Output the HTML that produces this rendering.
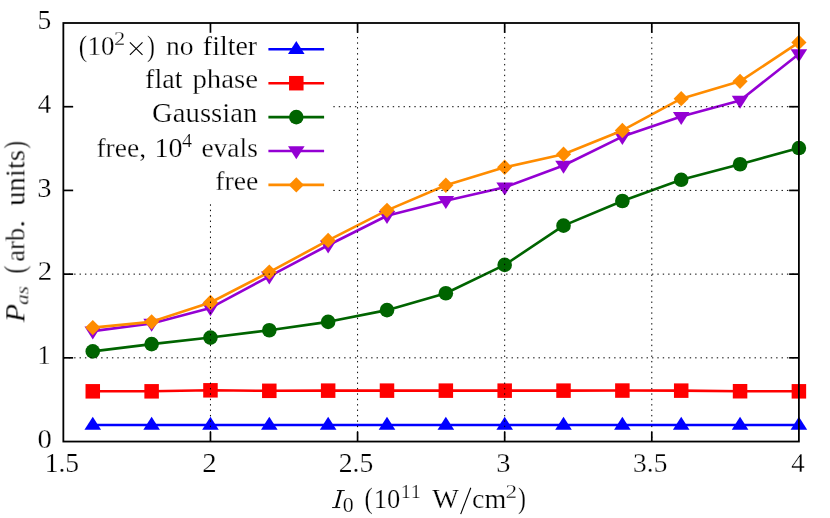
<!DOCTYPE html>
<html><head><meta charset="utf-8"><title>plot</title>
<style>
html,body{margin:0;padding:0;background:#fff;}
body{width:830px;height:518px;overflow:hidden;}
svg{display:block;}
text{font-family:"Liberation Serif",serif;fill:#000;}
#txt text{stroke:#fff;stroke-width:0.25px;paint-order:fill stroke;}
#txt{opacity:0.999;font-kerning:none;font-variant-ligatures:none;}
</style></head><body>
<svg width="830" height="518" viewBox="0 0 830 518">
<rect x="0" y="0" width="830" height="518" fill="#ffffff"/>

<polyline points="92.77,425.06 151.62,425.06 210.46,425.06 269.30,425.06 328.15,425.06 386.99,425.06 445.84,425.06 504.68,425.06 563.52,425.06 622.37,425.06 681.21,425.06 740.06,425.06 798.90,425.06" fill="none" stroke="#0000ff" stroke-width="2.6" stroke-linejoin="round"/>
<polygon points="92.77,416.76 84.47,429.76 101.07,429.76" fill="#0000ff"/>
<polygon points="151.62,416.76 143.32,429.76 159.92,429.76" fill="#0000ff"/>
<polygon points="210.46,416.76 202.16,429.76 218.76,429.76" fill="#0000ff"/>
<polygon points="269.30,416.76 261.00,429.76 277.60,429.76" fill="#0000ff"/>
<polygon points="328.15,416.76 319.85,429.76 336.45,429.76" fill="#0000ff"/>
<polygon points="386.99,416.76 378.69,429.76 395.29,429.76" fill="#0000ff"/>
<polygon points="445.84,416.76 437.54,429.76 454.14,429.76" fill="#0000ff"/>
<polygon points="504.68,416.76 496.38,429.76 512.98,429.76" fill="#0000ff"/>
<polygon points="563.52,416.76 555.22,429.76 571.82,429.76" fill="#0000ff"/>
<polygon points="622.37,416.76 614.07,429.76 630.67,429.76" fill="#0000ff"/>
<polygon points="681.21,416.76 672.91,429.76 689.51,429.76" fill="#0000ff"/>
<polygon points="740.06,416.76 731.76,429.76 748.36,429.76" fill="#0000ff"/>
<polygon points="798.90,416.76 790.60,429.76 807.20,429.76" fill="#0000ff"/>
<polyline points="92.77,391.32 151.62,391.32 210.46,390.32 269.30,390.82 328.15,390.65 386.99,390.65 445.84,390.65 504.68,390.65 563.52,390.65 622.37,390.57 681.21,390.65 740.06,391.24 798.90,391.32" fill="none" stroke="#ff0000" stroke-width="2.6" stroke-linejoin="round"/>
<rect x="85.52" y="384.07" width="14.5" height="14.5" fill="#ff0000"/>
<rect x="144.37" y="384.07" width="14.5" height="14.5" fill="#ff0000"/>
<rect x="203.21" y="383.07" width="14.5" height="14.5" fill="#ff0000"/>
<rect x="262.05" y="383.57" width="14.5" height="14.5" fill="#ff0000"/>
<rect x="320.90" y="383.40" width="14.5" height="14.5" fill="#ff0000"/>
<rect x="379.74" y="383.40" width="14.5" height="14.5" fill="#ff0000"/>
<rect x="438.59" y="383.40" width="14.5" height="14.5" fill="#ff0000"/>
<rect x="497.43" y="383.40" width="14.5" height="14.5" fill="#ff0000"/>
<rect x="556.27" y="383.40" width="14.5" height="14.5" fill="#ff0000"/>
<rect x="615.12" y="383.32" width="14.5" height="14.5" fill="#ff0000"/>
<rect x="673.96" y="383.40" width="14.5" height="14.5" fill="#ff0000"/>
<rect x="732.81" y="383.99" width="14.5" height="14.5" fill="#ff0000"/>
<rect x="791.65" y="384.07" width="14.5" height="14.5" fill="#ff0000"/>
<polyline points="92.77,351.39 151.62,344.11 210.46,337.58 269.30,330.22 328.15,321.84 386.99,310.13 445.84,293.22 504.68,264.92 563.52,225.66 622.37,200.97 681.21,179.79 740.06,164.22 798.90,148.06" fill="none" stroke="#006400" stroke-width="2.6" stroke-linejoin="round"/>
<circle cx="92.77" cy="351.39" r="7.3" fill="#006400"/>
<circle cx="151.62" cy="344.11" r="7.3" fill="#006400"/>
<circle cx="210.46" cy="337.58" r="7.3" fill="#006400"/>
<circle cx="269.30" cy="330.22" r="7.3" fill="#006400"/>
<circle cx="328.15" cy="321.84" r="7.3" fill="#006400"/>
<circle cx="386.99" cy="310.13" r="7.3" fill="#006400"/>
<circle cx="445.84" cy="293.22" r="7.3" fill="#006400"/>
<circle cx="504.68" cy="264.92" r="7.3" fill="#006400"/>
<circle cx="563.52" cy="225.66" r="7.3" fill="#006400"/>
<circle cx="622.37" cy="200.97" r="7.3" fill="#006400"/>
<circle cx="681.21" cy="179.79" r="7.3" fill="#006400"/>
<circle cx="740.06" cy="164.22" r="7.3" fill="#006400"/>
<circle cx="798.90" cy="148.06" r="7.3" fill="#006400"/>
<polyline points="92.77,331.14 151.62,323.52 210.46,307.95 269.30,276.31 328.15,245.25 386.99,215.78 445.84,200.72 504.68,187.32 563.52,165.47 622.37,136.59 681.21,116.59 740.06,100.43 798.90,53.97" fill="none" stroke="#9400d3" stroke-width="2.6" stroke-linejoin="round"/>
<polygon points="92.77,339.44 84.47,326.44 101.07,326.44" fill="#9400d3"/>
<polygon points="151.62,331.82 143.32,318.82 159.92,318.82" fill="#9400d3"/>
<polygon points="210.46,316.25 202.16,303.25 218.76,303.25" fill="#9400d3"/>
<polygon points="269.30,284.61 261.00,271.61 277.60,271.61" fill="#9400d3"/>
<polygon points="328.15,253.55 319.85,240.55 336.45,240.55" fill="#9400d3"/>
<polygon points="386.99,224.08 378.69,211.08 395.29,211.08" fill="#9400d3"/>
<polygon points="445.84,209.02 437.54,196.02 454.14,196.02" fill="#9400d3"/>
<polygon points="504.68,195.62 496.38,182.62 512.98,182.62" fill="#9400d3"/>
<polygon points="563.52,173.77 555.22,160.77 571.82,160.77" fill="#9400d3"/>
<polygon points="622.37,144.89 614.07,131.89 630.67,131.89" fill="#9400d3"/>
<polygon points="681.21,124.89 672.91,111.89 689.51,111.89" fill="#9400d3"/>
<polygon points="740.06,108.73 731.76,95.73 748.36,95.73" fill="#9400d3"/>
<polygon points="798.90,62.27 790.60,49.27 807.20,49.27" fill="#9400d3"/>
<polyline points="92.77,327.62 151.62,321.84 210.46,302.51 269.30,272.12 328.15,240.39 386.99,210.34 445.84,185.31 504.68,167.32 563.52,154.17 622.37,130.48 681.21,98.67 740.06,81.35 798.90,42.42" fill="none" stroke="#ff8c00" stroke-width="2.6" stroke-linejoin="round"/>
<polygon points="92.77,319.92 100.37,327.62 92.77,335.32 85.17,327.62" fill="#ff8c00"/>
<polygon points="151.62,314.14 159.22,321.84 151.62,329.54 144.02,321.84" fill="#ff8c00"/>
<polygon points="210.46,294.81 218.06,302.51 210.46,310.21 202.86,302.51" fill="#ff8c00"/>
<polygon points="269.30,264.42 276.90,272.12 269.30,279.82 261.70,272.12" fill="#ff8c00"/>
<polygon points="328.15,232.69 335.75,240.39 328.15,248.09 320.55,240.39" fill="#ff8c00"/>
<polygon points="386.99,202.64 394.59,210.34 386.99,218.04 379.39,210.34" fill="#ff8c00"/>
<polygon points="445.84,177.61 453.44,185.31 445.84,193.01 438.24,185.31" fill="#ff8c00"/>
<polygon points="504.68,159.62 512.28,167.32 504.68,175.02 497.08,167.32" fill="#ff8c00"/>
<polygon points="563.52,146.47 571.12,154.17 563.52,161.87 555.92,154.17" fill="#ff8c00"/>
<polygon points="622.37,122.78 629.97,130.48 622.37,138.18 614.77,130.48" fill="#ff8c00"/>
<polygon points="681.21,90.97 688.81,98.67 681.21,106.37 673.61,98.67" fill="#ff8c00"/>
<polygon points="740.06,73.65 747.66,81.35 740.06,89.05 732.46,81.35" fill="#ff8c00"/>
<polygon points="798.90,34.72 806.50,42.42 798.90,50.12 791.30,42.42" fill="#ff8c00"/>
<g stroke="#000" stroke-width="1" stroke-dasharray="1.4 4.0" fill="none">
<line x1="210.46" y1="441.55" x2="210.46" y2="23.0" stroke-dashoffset="-3.6"/>
<line x1="357.57" y1="441.55" x2="357.57" y2="23.0" stroke-dashoffset="-3.6"/>
<line x1="504.68" y1="441.55" x2="504.68" y2="23.0" stroke-dashoffset="-3.6"/>
<line x1="651.79" y1="441.55" x2="651.79" y2="23.0" stroke-dashoffset="-3.6"/>
<line x1="63.35" y1="357.84" x2="798.9" y2="357.84"/>
<line x1="63.35" y1="274.13" x2="798.9" y2="274.13"/>
<line x1="63.35" y1="190.42" x2="798.9" y2="190.42"/>
<line x1="63.35" y1="106.71" x2="798.9" y2="106.71"/>
</g>
<rect x="63.35" y="23.0" width="269.65" height="180.00" fill="#fff"/>
<g stroke="#000" stroke-width="1.7" fill="none">
<line x1="210.46" y1="441.55" x2="210.46" y2="431.75"/>
<line x1="210.46" y1="23.0" x2="210.46" y2="32.8"/>
<line x1="357.57" y1="441.55" x2="357.57" y2="431.75"/>
<line x1="357.57" y1="23.0" x2="357.57" y2="32.8"/>
<line x1="504.68" y1="441.55" x2="504.68" y2="431.75"/>
<line x1="504.68" y1="23.0" x2="504.68" y2="32.8"/>
<line x1="651.79" y1="441.55" x2="651.79" y2="431.75"/>
<line x1="651.79" y1="23.0" x2="651.79" y2="32.8"/>
<line x1="63.35" y1="357.84" x2="73.15" y2="357.84"/>
<line x1="798.9" y1="357.84" x2="789.1" y2="357.84"/>
<line x1="63.35" y1="274.13" x2="73.15" y2="274.13"/>
<line x1="798.9" y1="274.13" x2="789.1" y2="274.13"/>
<line x1="63.35" y1="190.42" x2="73.15" y2="190.42"/>
<line x1="798.9" y1="190.42" x2="789.1" y2="190.42"/>
<line x1="63.35" y1="106.71" x2="73.15" y2="106.71"/>
<line x1="798.9" y1="106.71" x2="789.1" y2="106.71"/>
</g>
<line x1="268.4" y1="49.30" x2="324.1" y2="49.30" stroke="#0000ff" stroke-width="2.6"/>
<polygon points="296.30,41.00 288.00,54.00 304.60,54.00" fill="#0000ff"/>
<line x1="268.4" y1="83.20" x2="324.1" y2="83.20" stroke="#ff0000" stroke-width="2.6"/>
<rect x="289.05" y="75.95" width="14.5" height="14.5" fill="#ff0000"/>
<line x1="268.4" y1="117.10" x2="324.1" y2="117.10" stroke="#006400" stroke-width="2.6"/>
<circle cx="296.30" cy="117.10" r="7.3" fill="#006400"/>
<line x1="268.4" y1="151.00" x2="324.1" y2="151.00" stroke="#9400d3" stroke-width="2.6"/>
<polygon points="296.30,159.30 288.00,146.30 304.60,146.30" fill="#9400d3"/>
<line x1="268.4" y1="184.90" x2="324.1" y2="184.90" stroke="#ff8c00" stroke-width="2.6"/>
<polygon points="296.30,177.20 303.90,184.90 296.30,192.60 288.70,184.90" fill="#ff8c00"/>
<rect x="63.35" y="23.0" width="735.55" height="418.55" fill="none" stroke="#000" stroke-width="1.8"/>
<g id="txt">
<text transform="translate(37.61,447.75) scale(1.0539,1.0000)" font-size="27.2">0</text>
<text transform="translate(37.59,364.04) scale(0.9660,1.0000)" font-size="27.2">1</text>
<text transform="translate(37.63,280.33) scale(1.0638,1.0000)" font-size="27.2">2</text>
<text transform="translate(37.28,196.62) scale(1.0511,1.0000)" font-size="27.2">3</text>
<text transform="translate(37.77,112.91) scale(0.9926,1.0000)" font-size="27.2">4</text>
<text transform="translate(37.60,29.20) scale(1.0130,1.0000)" font-size="27.2">5</text>
<text transform="translate(44.67,471.60) scale(1.0148,1.0000)" font-size="27.2">1.5</text>
<text transform="translate(202.28,471.60) scale(1.0593,1.0000)" font-size="27.2">2</text>
<text transform="translate(338.68,471.60) scale(1.0176,1.0000)" font-size="27.2">2.5</text>
<text transform="translate(496.23,471.60) scale(1.0502,1.0000)" font-size="27.2">3</text>
<text transform="translate(633.09,471.60) scale(1.0083,1.0000)" font-size="27.2">3.5</text>
<text transform="translate(791.17,471.60) scale(0.9886,1.0000)" font-size="27.2">4</text>
<text transform="translate(78.69,55.70) scale(0.9304,1.1000)" font-size="27.2">(</text>
<text transform="translate(87.53,55.25) scale(0.9927,1.0000)" font-size="27.2">10</text>
<text transform="translate(114.11,45.35) scale(1.2006,1.0000)" font-size="18.7">2</text>
<path d="M129.9 42.35 L142.5 54.95 M142.5 42.35 L129.9 54.95" stroke="#000" stroke-width="1.15" fill="none"/>
<text transform="translate(147.03,55.70) scale(0.8732,1.1000)" font-size="27.2">)</text>
<text transform="translate(165.97,55.25) scale(1.0141,1.0000)" font-size="27.2">no</text>
<text transform="translate(202.84,55.25) scale(1.0274,1.0000)" font-size="27.2">filter</text>
<text transform="translate(145.09,88.40) scale(1.0313,1.0000)" font-size="27.2">flat</text>
<text transform="translate(192.43,88.40) scale(1.0619,1.0000)" font-size="27.2">phase</text>
<text transform="translate(152.12,122.40) scale(1.0551,1.0000)" font-size="27.2">Gaussian</text>
<text transform="translate(96.45,156.90) scale(1.0105,1.0000)" font-size="27.2">free,</text>
<text transform="translate(154.43,156.90) scale(1.0348,1.0000)" font-size="27.2">10</text>
<text transform="translate(182.01,147.00) scale(1.0814,1.0000)" font-size="18.7">4</text>
<text transform="translate(201.43,156.90) scale(1.0104,1.0000)" font-size="27.2">evals</text>
<text transform="translate(215.15,190.20) scale(1.0202,1.0000)" font-size="27.2">free</text>
<path d="M336.2 507.3 L340.8 490.5" stroke="#000" stroke-width="2.1" fill="none"/>
<path d="M336.9 490.55 H344.8 M332.1 507.55 H340.2" stroke="#000" stroke-width="0.95" fill="none"/>
<text transform="translate(342.76,512.40) scale(1.0809,1.0000)" font-size="20.3">0</text>
<text transform="translate(364.60,508.45) scale(0.9161,1.1000)" font-size="27.2">(</text>
<text transform="translate(373.67,508.00) scale(0.9759,1.0000)" font-size="27.2">10</text>
<text transform="translate(400.72,497.90) scale(1.0858,1.0000)" font-size="18.7">11</text>
<text transform="translate(432.27,508.00) scale(1.0354,1.0000)" font-size="27.2">W</text>
<line x1="460.7" y1="514.1" x2="470.8" y2="487.8" stroke="#000" stroke-width="1.15"/>
<text transform="translate(471.93,508.00) scale(1.0325,1.0000)" font-size="27.2">cm</text>
<text transform="translate(505.48,497.90) scale(1.2406,1.0000)" font-size="18.7">2</text>
<text transform="translate(517.93,508.45) scale(0.8732,1.1000)" font-size="27.2">)</text>
<g transform="translate(24.4,322.6) rotate(-90)">
<text transform="translate(0.26,0.00) scale(1.1139,1.0000)" font-size="27.2" font-style="italic">P</text>
<text transform="translate(17.67,4.30) scale(1.1109,1.0000)" font-size="19" font-style="italic">as</text>
<text transform="translate(49.04,0.45) scale(0.8875,1.1000)" font-size="27.2">(</text>
<text transform="translate(60.97,0.00) scale(0.9713,1.0000)" font-size="27.2">arb</text>
<text transform="translate(94.68,0.00) scale(1.1823,1.0000)" font-size="27.2">.</text>
<text transform="translate(116.72,0.00) scale(1.0571,1.0000)" font-size="27.2">units</text>
<text transform="translate(173.97,0.45) scale(0.8302,1.1000)" font-size="27.2">)</text>
</g>
</g>
</svg></body></html>
